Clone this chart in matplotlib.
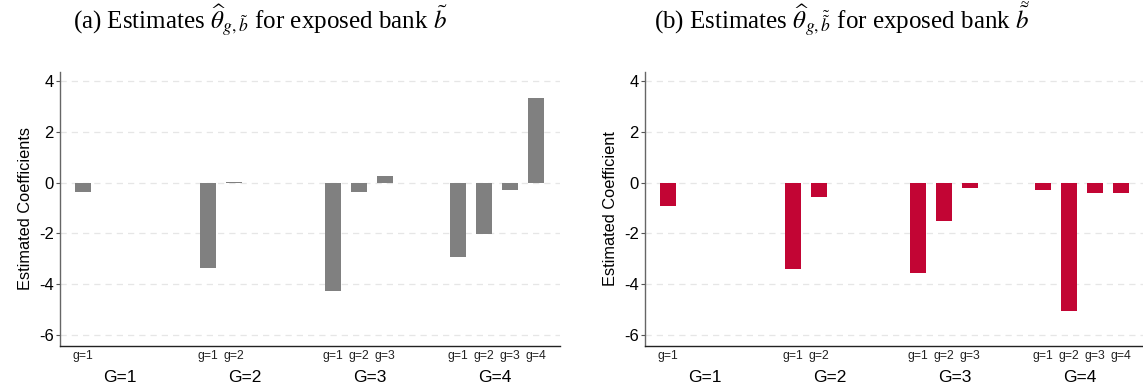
import matplotlib.pyplot as plt
import numpy as np

plt.rcParams['font.family'] = ['Liberation Sans', 'DejaVu Sans']
plt.rcParams['mathtext.fontset'] = 'stix'

# estimates per group G, one bar per sub-group g
groups = ["G=1", "G=2", "G=3", "G=4"]
coef_a = [[-0.37], [-3.38, 0.03], [-4.25, -0.37, 0.25], [-2.93, -2.04, -0.29, 3.33]]
coef_b = [[-0.92], [-3.41, -0.57], [-3.56, -1.51, -0.21], [-0.29, -5.04, -0.43, -0.41]]
yticks = [-6, -4, -2, 0, 2, 4]

GROUP_STEP = 4.81  # distance between first bars of consecutive groups (in bar slots)
BAR_W = 0.62
W, H = 1143, 392


def draw(ax, coefs, color, ylabel):
    xs, vals, sub_labels = [], [], []
    for k, vs in enumerate(coefs):
        for j, v in enumerate(vs):
            xs.append(k * GROUP_STEP + j)
            vals.append(v)
            sub_labels.append(f"g={j + 1}")

    for y in yticks:
        ax.axhline(y, color="#e6e6e6", lw=0.9, dashes=(5, 4), zorder=0)
    ax.bar(xs, vals, width=BAR_W, color=color, edgecolor="none", zorder=2)

    ax.set_xlim(-0.885, 18.35)
    ax.set_ylim(-6.43, 4.35)
    ax.set_yticks(yticks)
    ax.set_yticklabels([str(t) for t in yticks], fontsize=12)
    ax.tick_params(axis="y", length=3, width=0.8, color="#555555", pad=1.5)
    ax.set_xticks([])
    ax.set_ylabel(ylabel, fontsize=11.8, labelpad=4)

    for s in ["top", "right"]:
        ax.spines[s].set_visible(False)
    ax.spines["left"].set_color("#666666")
    ax.spines["bottom"].set_color("#222222")
    ax.spines["left"].set_linewidth(1.0)
    ax.spines["bottom"].set_linewidth(1.0)

    trans = ax.get_xaxis_transform()
    for x, lab in zip(xs, sub_labels):
        ax.text(x, -0.014, lab, transform=trans, ha="center", va="top", fontsize=8.8, color="#222222")
    for k, g in enumerate(groups):
        ax.text(k * GROUP_STEP + 1.42, -0.088, g, transform=trans, ha="center", va="top", fontsize=12.5)


fig = plt.figure(figsize=(W / 100, H / 100), dpi=100)
ax1 = fig.add_axes([60 / W, 46 / H, 500 / W, 274 / H])
ax2 = fig.add_axes([645 / W, 46 / H, 500 / W, 274 / H])

draw(ax1, coef_a, "#808080", "Estimated Coefficients")
draw(ax2, coef_b, "#C20534", "Estimated Coefficient")

fig.text(260 / W, 1 - 30 / H, r"(a) Estimates $\widehat{\theta}_{g,\tilde{b}}$ for exposed bank $\tilde{b}$",
         ha="center", va="baseline", fontsize=18, family="Liberation Serif")
t2 = fig.text(842 / W, 1 - 30 / H, r"(b) Estimates $\widehat{\theta}_{g,\tilde{\tilde{b}}}$ for exposed bank $\tilde{b}$",
              ha="center", va="baseline", fontsize=18, family="Liberation Serif")

# second tilde over the last b (nested accent goes off the canvas at this size)
fig.canvas.draw()
bb = t2.get_window_extent()
fig.text((bb.x1 - 5) / W, 1 - 5 / H, "~", ha="center", va="center", fontsize=11, family="Liberation Serif")

fig.savefig("out.png", dpi=100)
